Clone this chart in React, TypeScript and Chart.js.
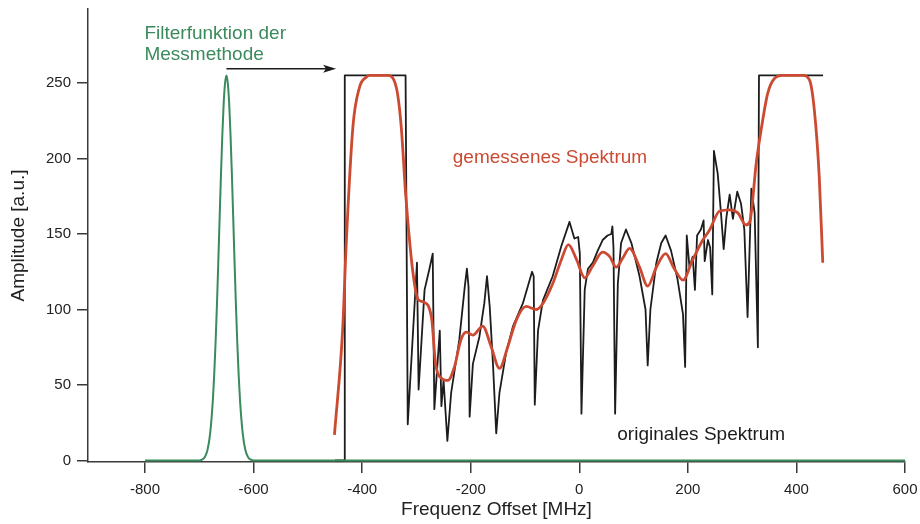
import React, { useEffect, useRef } from 'react';
import { Chart, registerables } from 'chart.js';

Chart.register(...registerables);

// ---- data ----
const X_TICKS = [-800, -600, -400, -200, 0, 200, 400, 600];
const Y_TICKS = [0, 50, 100, 150, 200, 250];

// Filter function (green)
const FILTER_X = [-800, -700, -695, -690, -685, -680, -675, -672.5, -670, -667.5, -665, -662.5, -660, -657.5, -655, -652.5, -650,
  -647.5, -645, -642.5, -640, -637.5, -635, -632.5, -630, -627.5, -625, -620, -615, -610, -605, -600, 600];
const FILTER_Y = [0, 0, 0.6, 2.2, 6.8, 18, 40, 57, 78, 103, 131, 161, 190, 216, 237, 250, 255,
  250, 237, 216, 190, 161, 131, 103, 78, 57, 40, 18, 6.8, 2.2, 0.6, 0, 0];

// Original spectrum (black)
const ORIG_X = [-450, -433, -432, -320, -316, -299, -296, -285, -276, -270, -267, -257, -254, -250, -243, -236, -221, -211, -207, -204,
  -202, -196, -184, -175, -170, -165, -159, -153, -147, -135, -122, -104, -95, -87, -84, -82, -76, -67, -49, -33,
  -18, -9, -2, 1, 4, 10, 16, 25, 34, 43, 52, 59, 61, 63, 66, 71, 77, 86, 96, 111,
  122, 126, 131, 142, 151, 159, 169, 181, 191, 195, 198, 203, 209, 213, 217, 224, 229, 231, 237, 241,
  245, 248, 255, 261, 266, 271, 277, 283, 291, 298, 304, 310, 317, 323, 329, 331, 449];
const ORIG_Y = [0, 0, 255, 255, 24, 131, 47, 113, 127, 137, 34, 86, 36, 53, 13, 45, 80, 115, 127, 115,
  29, 64, 82, 104, 122, 102, 64, 18, 45, 71, 89, 104, 115, 125, 122, 37, 86, 106, 122, 142,
  158, 147, 148, 137, 31, 113, 127, 131, 139, 146, 149, 150, 155, 141, 31, 117, 144, 153, 144, 122,
  100, 63, 100, 131, 144, 149, 139, 120, 97, 62, 149, 128, 135, 113, 149, 153, 159, 132, 146, 141,
  110, 205, 190, 164, 140, 161, 176, 160, 178, 170, 153, 95, 180, 164, 75, 255, 255];

// Measured spectrum (red)
const MEAS_X = [-451, -436, -429, -417, -405, -392, -386, -353, -337, -328, -320, -316, -307, -297.5, -287, -272, -265, -254, -242, -230,
  -218, -208, -196, -178, -162, -147, -132, -116, -98, -79, -67, -49, -33, -20, -5, 10, 25, 43, 56, 68,
  80, 92.5, 111, 126, 142, 159, 175, 191, 209, 227.5, 240, 258, 277, 292, 307, 314, 326, 335, 347, 359.5,
  375, 412, 424, 433, 442, 448.5];
const MEAS_Y = [17, 86, 146, 221, 247, 254, 255, 255, 247, 221, 177, 159, 126, 107, 105, 94, 65, 54.5, 53, 62,
  80, 85, 83, 89, 75, 61, 75, 93, 102, 100, 104, 117, 133, 143, 133, 121, 129, 138, 135, 128,
  134, 140.5, 128, 115.5, 128, 137, 127, 119.5, 133, 146, 152.6, 165, 166, 164, 156, 158, 197, 219, 243, 253,
  255, 255, 252, 232, 188, 131];

const GREEN = '#3b8a5c';
const RED = '#cc4a32';
const DARK = '#1c1c1c';
const AXIS = '#3a3a3a';
const FONT = '"Liberation Sans", Arial, Helvetica, sans-serif';

const pts = (xs: number[], ys: number[]) => xs.map((x, i) => ({ x, y: ys[i] }));

const annotations = {
  id: 'annotations',
  afterDatasetsDraw(chart: any) {
    const { ctx, scales } = chart;
    const x = scales.x;
    const y = scales.y;
    ctx.save();
    ctx.font = `19px ${FONT}`;
    ctx.textAlign = 'left';
    ctx.textBaseline = 'alphabetic';
    ctx.fillStyle = GREEN;
    ctx.fillText('Filterfunktion der', x.getPixelForValue(-801), y.getPixelForValue(279.4));
    ctx.fillText('Messmethode', x.getPixelForValue(-801), y.getPixelForValue(265));
    ctx.fillStyle = RED;
    ctx.fillText('gemessenes Spektrum', x.getPixelForValue(-233), y.getPixelForValue(196.7));
    ctx.fillStyle = DARK;
    ctx.fillText('originales Spektrum', x.getPixelForValue(70), y.getPixelForValue(13.7));

    // arrow
    const ax0 = x.getPixelForValue(-650);
    const ax1 = x.getPixelForValue(-448);
    const ay = y.getPixelForValue(259.5);
    ctx.strokeStyle = DARK;
    ctx.lineWidth = 1.5;
    ctx.beginPath();
    ctx.moveTo(ax0, ay);
    ctx.lineTo(ax1 - 10, ay);
    ctx.stroke();
    ctx.fillStyle = DARK;
    ctx.beginPath();
    ctx.moveTo(ax1, ay);
    ctx.lineTo(ax1 - 13, ay - 4);
    ctx.lineTo(ax1 - 10, ay);
    ctx.lineTo(ax1 - 13, ay + 4);
    ctx.closePath();
    ctx.fill();
    ctx.restore();
  },
};

export default function App() {
  const ref = useRef<HTMLCanvasElement | null>(null);
  useEffect(() => {
    if (!ref.current) return;
    const chart = new Chart(ref.current, {
      type: 'line',
      data: {
        datasets: [
          {
            label: 'Filterfunktion',
            data: pts(FILTER_X, FILTER_Y),
            borderColor: GREEN,
            borderWidth: 2,
            pointRadius: 0,
            cubicInterpolationMode: 'monotone',
            fill: false,
          },
          {
            label: 'gemessenes Spektrum',
            data: pts(MEAS_X, MEAS_Y),
            borderColor: RED,
            borderWidth: 2.8,
            pointRadius: 0,
            cubicInterpolationMode: 'monotone',
            fill: false,
          },
          {
            label: 'originales Spektrum',
            data: pts(ORIG_X, ORIG_Y),
            borderColor: DARK,
            borderWidth: 1.8,
            pointRadius: 0,
            tension: 0,
            borderJoinStyle: 'round',
            fill: false,
          },
        ],
      },
      options: {
        responsive: false,
        animation: false,
        events: [],
        layout: { padding: { left: 0, right: 15, top: 9, bottom: 0 } },
        plugins: {
          legend: { display: false },
          tooltip: { enabled: false },
        },
        scales: {
          x: {
            type: 'linear',
            min: -905,
            max: 600,
            afterBuildTicks: (s: any) => { s.ticks = X_TICKS.map((v) => ({ value: v })); },
            afterFit: (s: any) => { s.height = 62; s.paddingLeft = 0; s.paddingRight = 0; },
            grid: { display: true, drawOnChartArea: false, drawTicks: true, tickLength: 11, color: AXIS, lineWidth: 1.5 },
            border: { display: true, color: AXIS, width: 1.5 },
            ticks: { color: '#222', font: { family: FONT, size: 15 }, padding: 8, maxRotation: 0 },
            title: { display: true, text: 'Frequenz Offset [MHz]', color: '#222', font: { family: FONT, size: 19 }, padding: { top: 0, bottom: 3 } },
          },
          y: {
            type: 'linear',
            min: -1,
            max: 299,
            afterBuildTicks: (s: any) => { s.ticks = Y_TICKS.map((v) => ({ value: v })); },
            afterFit: (s: any) => { s.width = 88; s.paddingTop = 0; s.paddingBottom = 0; },
            grid: { display: true, drawOnChartArea: false, drawTicks: true, tickLength: 11, color: AXIS, lineWidth: 1.5 },
            border: { display: true, color: AXIS, width: 1.5 },
            ticks: { color: '#222', font: { family: FONT, size: 15 }, padding: 6 },
            title: { display: true, text: 'Amplitude [a.u.]', color: '#222', font: { family: FONT, size: 19 }, padding: { top: 7, bottom: 0 } },
          },
        },
      },
      plugins: [annotations],
    });
    return () => chart.destroy();
  }, []);

  return (
    <div style={{ position: 'absolute', left: 0, top: 0, width: 920, height: 524, background: '#fff' }}>
      <canvas ref={ref} width={920} height={524} style={{ display: 'block' }} />
    </div>
  );
}
